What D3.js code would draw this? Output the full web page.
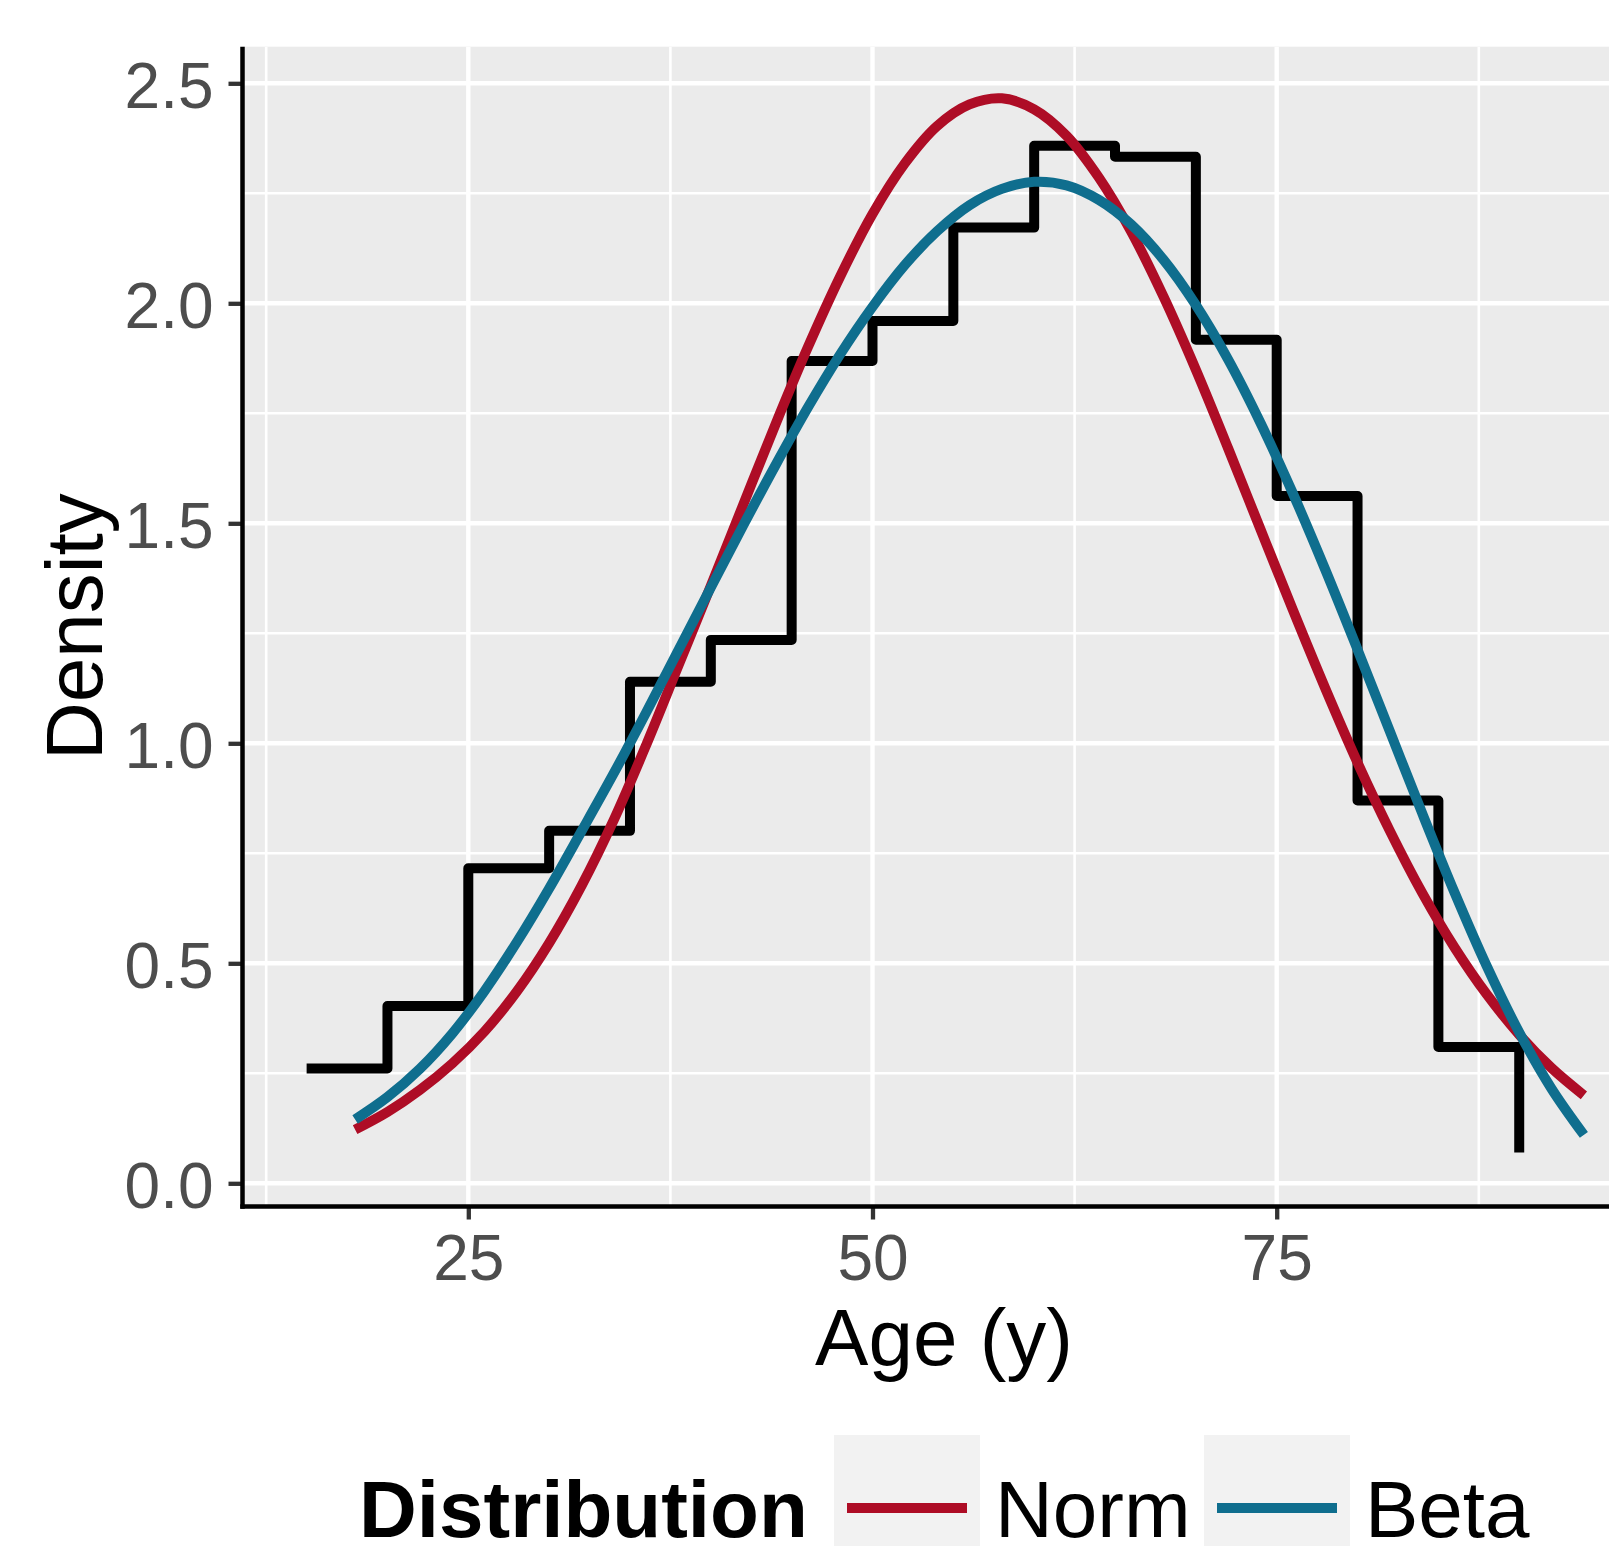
<!DOCTYPE html>
<html>
<head>
<meta charset="utf-8">
<script src="https://cdn.jsdelivr.net/npm/d3@7"></script>
<style>
  html, body { margin: 0; padding: 0; background: #ffffff; }
  svg { display: block; }
  text { font-family: "Liberation Sans", Arial, Helvetica, sans-serif; }
</style>
</head>
<body>
<svg id="chart" width="1609" height="1546"></svg>
<script>
// ---------------- data ----------------
const stepAge     = [15, 20, 25, 30, 35, 40, 45, 50, 55, 60, 65, 70, 75, 80, 85, 90];
const stepDensity = [0.261, 0.403, 0.716, 0.801, 1.140, 1.235, 1.869, 1.960, 2.172, 2.358, 2.333, 1.917, 1.562, 0.870, 0.310, 0.070];

const curveAge    = [18, 20, 22, 24, 26, 28, 30, 32, 34, 36, 38, 40, 42, 44, 46, 48, 50, 52, 54, 56,
                     58, 60, 62, 64, 66, 68, 70, 72, 74, 76, 78, 80, 82, 84, 86, 88, 90, 92, 94];
const normDensity = [0.122, 0.162, 0.212, 0.272, 0.345, 0.436, 0.546, 0.676, 0.826, 0.996, 1.177, 1.358,
                     1.542, 1.725, 1.900, 2.061, 2.203, 2.318, 2.403, 2.452, 2.466, 2.441, 2.381, 2.286,
                     2.163, 2.015, 1.849, 1.670, 1.486, 1.303, 1.125, 0.956, 0.801, 0.660, 0.536, 0.429,
                     0.338, 0.262, 0.200];
const betaDensity = [0.145, 0.196, 0.260, 0.340, 0.437, 0.548, 0.670, 0.800, 0.932, 1.070, 1.212, 1.354,
                     1.495, 1.632, 1.763, 1.884, 1.992, 2.087, 2.164, 2.223, 2.260, 2.276, 2.268, 2.235,
                     2.179, 2.099, 1.996, 1.872, 1.728, 1.568, 1.395, 1.213, 1.027, 0.841, 0.661, 0.493,
                     0.343, 0.215, 0.110];

const xTicks = [25, 50, 75];
const xMinor = [12.5, 37.5, 62.5, 87.5];
const yTicks = [0, 0.5, 1.0, 1.5, 2.0, 2.5];
const yMinor = [0.25, 0.75, 1.25, 1.75, 2.25];

const xTitle = "Age (y)";
const yTitle = "Density";
const legendTitle = "Distribution";
const seriesNames  = ["Norm", "Beta"];
const seriesColors = ["#AE0D26", "#0F6E8E"];

// ---------------- layout ----------------
const svg = d3.select("#chart");
const panel = { left: 242.5, top: 46.7, right: 1650, bottom: 1206.5 };

const x = d3.scaleLinear().domain([25, 75]).range([468.3, 1276.7]);
const y = d3.scaleLinear().domain([0, 2.5]).range([1183.3, 83.3]);

// panel background
svg.append("rect")
  .attr("x", panel.left).attr("y", panel.top)
  .attr("width", panel.right - panel.left).attr("height", panel.bottom - panel.top)
  .attr("fill", "#EBEBEB");

svg.append("clipPath").attr("id", "clip")
  .append("rect")
  .attr("x", panel.left).attr("y", panel.top)
  .attr("width", panel.right - panel.left).attr("height", panel.bottom - panel.top);

const grid = svg.append("g").attr("clip-path", "url(#clip)");
// minor grid
grid.selectAll(".xmin").data(xMinor).enter().append("line")
  .attr("x1", d => x(d)).attr("x2", d => x(d))
  .attr("y1", panel.top).attr("y2", panel.bottom)
  .attr("stroke", "#ffffff").attr("stroke-width", 2.6);
grid.selectAll(".ymin").data(yMinor).enter().append("line")
  .attr("x1", panel.left).attr("x2", panel.right)
  .attr("y1", d => y(d)).attr("y2", d => y(d))
  .attr("stroke", "#ffffff").attr("stroke-width", 2.6);
// major grid
grid.selectAll(".xmaj").data(xTicks).enter().append("line")
  .attr("x1", d => x(d)).attr("x2", d => x(d))
  .attr("y1", panel.top).attr("y2", panel.bottom)
  .attr("stroke", "#ffffff").attr("stroke-width", 4.4);
grid.selectAll(".ymaj").data(yTicks).enter().append("line")
  .attr("x1", panel.left).attr("x2", panel.right)
  .attr("y1", d => y(d)).attr("y2", d => y(d))
  .attr("stroke", "#ffffff").attr("stroke-width", 4.4);

// ---------------- marks ----------------
const marks = svg.append("g").attr("clip-path", "url(#clip)");

const stepData = stepAge.map((a, i) => [a, stepDensity[i]]);
marks.append("path")
  .datum(stepData)
  .attr("fill", "none")
  .attr("stroke", "#000000")
  .attr("stroke-width", 10)
  .attr("stroke-linejoin", "round")
  .attr("stroke-linecap", "butt")
  .attr("d", d3.line().x(d => x(d[0])).y(d => y(d[1])).curve(d3.curveStepAfter));

const curveLine = d3.line().x(d => x(d[0])).y(d => y(d[1])).curve(d3.curveCatmullRom.alpha(0.5));
[normDensity, betaDensity].forEach((vals, k) => {
  marks.append("path")
    .datum(curveAge.map((a, i) => [a, vals[i]]))
    .attr("fill", "none")
    .attr("stroke", seriesColors[k])
    .attr("stroke-width", 10)
    .attr("stroke-linecap", "butt")
    .attr("stroke-linejoin", "round")
    .attr("d", curveLine);
});

// ---------------- axes ----------------
const yAxis = svg.append("g")
  .attr("transform", `translate(${panel.left},0)`)
  .call(d3.axisLeft(y).tickValues(yTicks).tickFormat(d3.format(".1f")).tickSize(14).tickPadding(15));
const xAxis = svg.append("g")
  .attr("transform", `translate(0,${panel.bottom})`)
  .call(d3.axisBottom(x).tickValues(xTicks).tickFormat(d3.format("d")).tickSize(13).tickPadding(15));

[yAxis, xAxis].forEach(g => {
  g.select(".domain").remove();
  g.selectAll(".tick line").attr("stroke", "#333333").attr("stroke-width", 4.3);
  g.selectAll(".tick text")
    .attr("fill", "#4D4D4D")
    .style("font-size", "64px")
    .style("font-family", "'Liberation Sans', Arial, sans-serif");
});
yAxis.selectAll(".tick text").attr("dy", "0.38em");

// axis lines
svg.append("line")
  .attr("x1", panel.left).attr("x2", panel.left)
  .attr("y1", panel.top).attr("y2", panel.bottom + 2.25)
  .attr("stroke", "#000000").attr("stroke-width", 4.5);
svg.append("line")
  .attr("x1", panel.left - 2.25).attr("x2", 1609)
  .attr("y1", panel.bottom).attr("y2", panel.bottom)
  .attr("stroke", "#000000").attr("stroke-width", 4.5);

// axis titles
svg.append("text")
  .attr("x", 944).attr("y", 1365)
  .attr("text-anchor", "middle")
  .attr("fill", "#000000")
  .style("font-size", "80px")
  .text(xTitle);

svg.append("text")
  .attr("transform", `translate(102,${(panel.top + panel.bottom) / 2}) rotate(-90)`)
  .attr("text-anchor", "middle")
  .attr("fill", "#000000")
  .style("font-size", "80px")
  .text(yTitle);

// ---------------- legend ----------------
const legend = svg.append("g");
legend.append("text")
  .attr("x", 359).attr("y", 1537)
  .attr("fill", "#000000")
  .style("font-size", "80px")
  .style("font-weight", "bold")
  .text(legendTitle);

const keyX = [834, 1204];
const labelX = [995, 1365];
seriesNames.forEach((name, i) => {
  legend.append("rect")
    .attr("x", keyX[i]).attr("y", 1435)
    .attr("width", 146).attr("height", 146)
    .attr("fill", "#F2F2F2");
  legend.append("line")
    .attr("x1", keyX[i] + 13).attr("x2", keyX[i] + 133)
    .attr("y1", 1508).attr("y2", 1508)
    .attr("stroke", seriesColors[i]).attr("stroke-width", 10);
  legend.append("text")
    .attr("x", labelX[i]).attr("y", 1537)
    .attr("fill", "#000000")
    .style("font-size", "80px")
    .text(name);
});
</script>
</body>
</html>
